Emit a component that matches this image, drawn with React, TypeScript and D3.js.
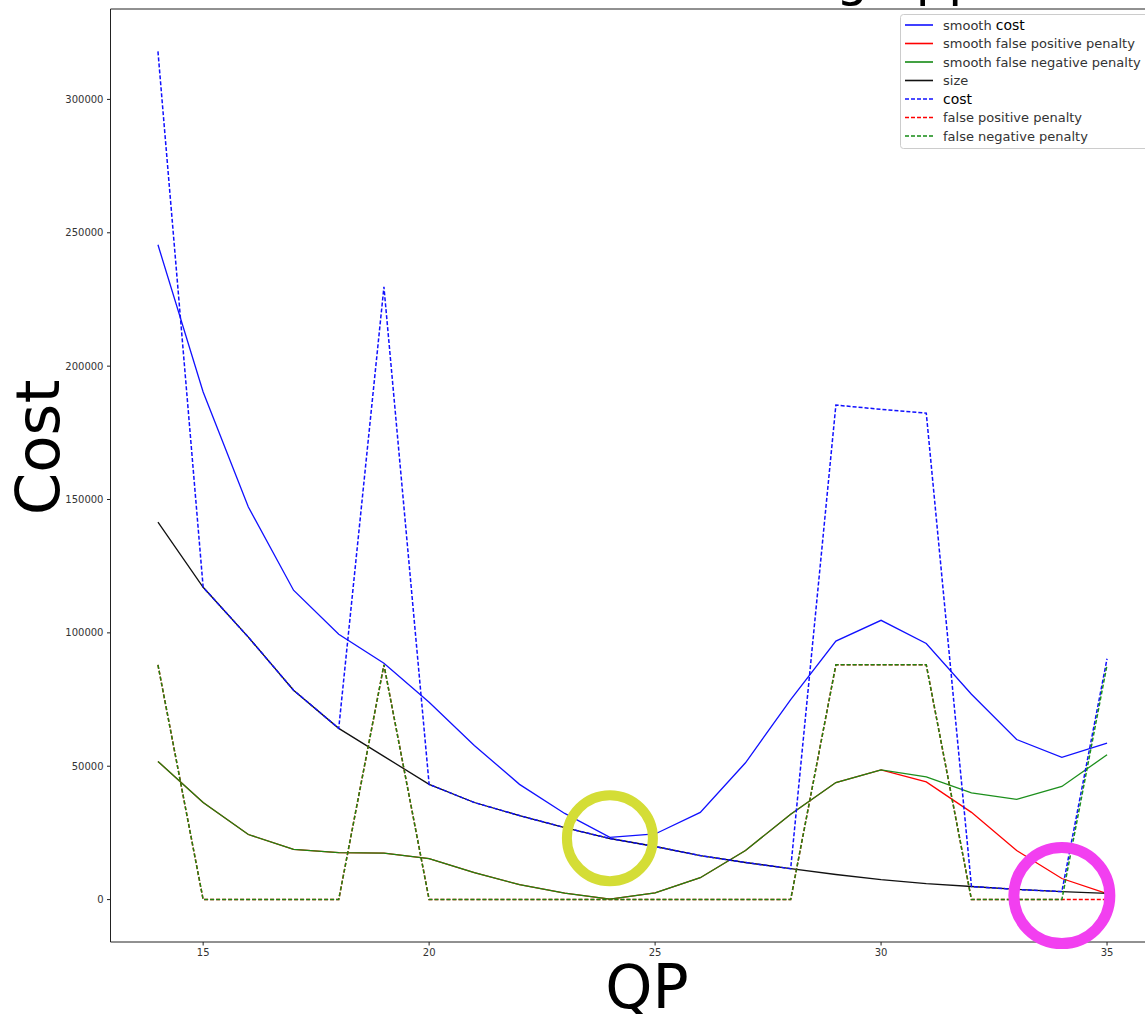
import { scaleLinear, line } from "d3";

const qp = [14, 15, 16, 17, 18, 19, 20, 21, 22, 23, 24, 25, 26, 27, 28, 29, 30, 31, 32, 33, 34, 35];

const size = [141500, 117100, 98400, 78500, 64200, 53700, 43200, 36400, 31500, 27000, 22900,
  19900, 16500, 13900, 11600, 9400, 7500, 6000, 4900, 3800, 3000, 2300];
const cost = [318000, 117100, 98400, 78500, 64200, 229700, 43200, 36400, 31500, 27000, 22900,
  19900, 16500, 13900, 11600, 185400, 183800, 182400, 4900, 3800, 3000, 90300];
const falsePositive = [88000, 0, 0, 0, 0, 88000, 0, 0, 0, 0, 0,
  0, 0, 0, 0, 88000, 88000, 88000, 0, 0, 0, 0];
const falseNegative = [88000, 0, 0, 0, 0, 88000, 0, 0, 0, 0, 0,
  0, 0, 0, 0, 88000, 88000, 88000, 0, 0, 0, 88000];
const smoothCost = [245500, 190300, 147200, 116000, 99500, 88600, 74000, 57800, 43200, 32300, 23300,
  24600, 32700, 51300, 75000, 96900, 104700, 96000, 77000, 60000, 53300, 58700];
const smoothFalsePositive = [51800, 36400, 24400, 18800, 17600, 17400, 15400, 10100, 5600, 2400, 200,
  2500, 8200, 18400, 32000, 43900, 48600, 44100, 32700, 18400, 7900, 2200];
const smoothFalseNegative = [51800, 36400, 24400, 18800, 17600, 17400, 15400, 10100, 5600, 2400, 200,
  2500, 8200, 18400, 32000, 43900, 48600, 46000, 40000, 37600, 42400, 54300];

const xTicks = [15, 20, 25, 30, 35];
const yTicks = [0, 50000, 100000, 150000, 200000, 250000, 300000];

// annotation rings (qp, cost)
const yellowMark = [24, 23000];
const pinkMark = [34, 1500];

const font = "DejaVu Sans, sans-serif";

const series = [
  { label: "smooth cost", values: smoothCost, color: "#1010ff", dash: null, opacity: 1 },
  { label: "smooth false positive penalty", values: smoothFalsePositive, color: "#ff0000", dash: null, opacity: 1 },
  { label: "smooth false negative penalty", values: smoothFalseNegative, color: "#138a13", dash: null, opacity: 0.96 },
  { label: "size", values: size, color: "#111111", dash: null, opacity: 1 },
  { label: "cost", values: cost, color: "#1010ff", dash: "4,2", opacity: 1 },
  { label: "false positive penalty", values: falsePositive, color: "#ff0000", dash: "4,2", opacity: 1 },
  { label: "false negative penalty", values: falseNegative, color: "#138a13", dash: "4,2", opacity: 0.96 },
];

export default function App() {
  const left = 110.5, right = 1154.5, top = 9, bottom = 942;

  const x = scaleLinear().domain([12.95, 36.05]).range([left, right]);
  const y = scaleLinear().domain([-15900, 333900]).range([bottom, top]);

  const path = (vals: number[]) =>
    line<number>()
      .x((_, i) => x(qp[i]))
      .y((d) => y(d))(vals) || "";

  return (
    <>
      <style>{`body{margin:0}`}</style>
      <svg width={1145} height={1014} style={{ display: "block", background: "#fff" }} fontFamily={font}>
        {/* title, mostly above the visible area */}
        <text y={-5} fontSize={51} fill="#000">
          <tspan x={836} textAnchor="end">Cost for encodin</tspan>
          <tspan x={836}>g approach</tspan>
        </text>

        {series.map((s) => (
          <path
            key={s.label}
            d={path(s.values)}
            fill="none"
            stroke={s.color}
            strokeOpacity={s.opacity}
            strokeWidth={s.dash ? 1.5 : 1.3}
            strokeDasharray={s.dash || undefined}
          />
        ))}

        {/* spines */}
        <g stroke="#222" strokeWidth={1} fill="none">
          <line x1={left} x2={left} y1={top} y2={bottom} />
          <line x1={left} x2={right} y1={bottom} y2={bottom} />
          <line x1={left} x2={right} y1={top} y2={top} />
          <line x1={right} x2={right} y1={top} y2={bottom} />
        </g>

        {/* y axis */}
        {yTicks.map((t) => (
          <g key={t} transform={`translate(0,${y(t)})`}>
            <line x1={left - 3.5} x2={left} stroke="#222" />
            <text x={left - 7} dy="0.35em" textAnchor="end" fontSize={10} fill="#333">{t}</text>
          </g>
        ))}
        {/* x axis */}
        {xTicks.map((t) => (
          <g key={t} transform={`translate(${x(t)},${bottom})`}>
            <line y1={0} y2={3.5} stroke="#222" />
            <text y={14} textAnchor="middle" fontSize={10} fill="#333">{t}</text>
          </g>
        ))}

        <text transform="translate(59,447.5) rotate(-90)" textAnchor="middle" fontSize={61} fill="#000">Cost</text>
        <text x={647} y={1008} textAnchor="middle" fontSize={60} fill="#000">QP</text>

        {/* legend */}
        <g transform="translate(900,14)">
          <rect x={0.5} y={0.5} width={270} height={134} rx={3} fill="#fff" fillOpacity={0.8} stroke="#ccc" />
          {series.map((s, i) => {
            const ry = 11 + i * 18.5;
            const isCost = s.label.endsWith("cost");
            return (
              <g key={s.label} transform={`translate(0,${ry})`}>
                <line x1={5} x2={33} stroke={s.color} strokeWidth={1.6} strokeDasharray={s.dash || undefined} />
                <text x={43} dy="0.35em" fontSize={13} fill="#333">
                  {isCost ? (
                    <>
                      {s.label.replace("cost", "")}
                      <tspan fill="#000" fontSize={14}>cost</tspan>
                    </>
                  ) : s.label}
                </text>
              </g>
            );
          })}
        </g>

        {/* annotation rings */}
        <circle cx={x(yellowMark[0])} cy={y(yellowMark[1])} r={43} fill="none" stroke="#d4dd36" strokeWidth={10} />
        <circle cx={x(pinkMark[0])} cy={y(pinkMark[1])} r={48} fill="none" stroke="#f23ff0" strokeWidth={11} />
      </svg>
    </>
  );
}
